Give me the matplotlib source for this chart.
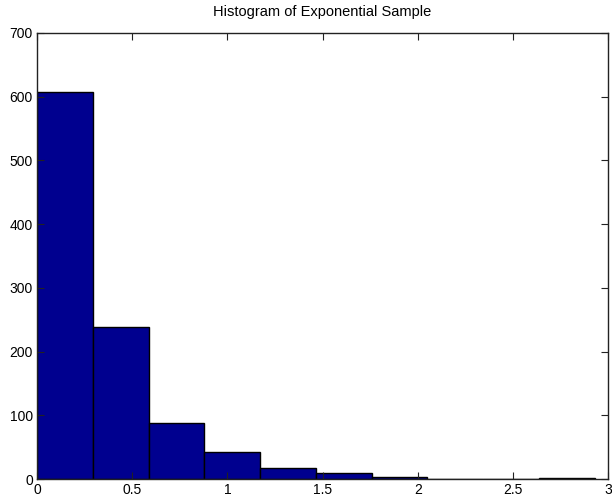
import numpy as np
import matplotlib.pyplot as plt

# histogram counts (10 bins between 0 and ~2.93)
counts = [608, 239, 88, 43, 17, 9, 3, 0, 0, 2]
x_min, x_max = 0.0, 2.93
bin_edges = np.linspace(x_min, x_max, len(counts) + 1)

xticks = [0, 0.5, 1, 1.5, 2, 2.5, 3]
xtick_labels = ['0', '0.5', '1', '1.5', '2', '2.5', '3']
yticks = [0, 100, 200, 300, 400, 500, 600, 700]

plt.rcParams['font.family'] = ['Liberation Sans', 'DejaVu Sans']

fig = plt.figure(figsize=(6.12, 4.98), dpi=100)
ax = fig.add_axes([0.0605, 0.038, 0.933, 0.896])

ax.bar(bin_edges[:-1], counts, width=np.diff(bin_edges), align='edge',
       color='#00008F', edgecolor='black', linewidth=1.0)

ax.set_xlim(0, 3)
ax.set_ylim(0, 700)
ax.set_xticks(xticks)
ax.set_xticklabels(xtick_labels)
ax.set_yticks(yticks)
ax.tick_params(direction='in', length=5, top=True, right=True,
               labelsize=10, pad=3, color='#222222')
for s in ax.spines.values():
    s.set_linewidth(1.0)
    s.set_color('#222222')

ax.set_title('Histogram of Exponential Sample', fontsize=10.5, pad=12)

fig.savefig('out.png', dpi=100)
